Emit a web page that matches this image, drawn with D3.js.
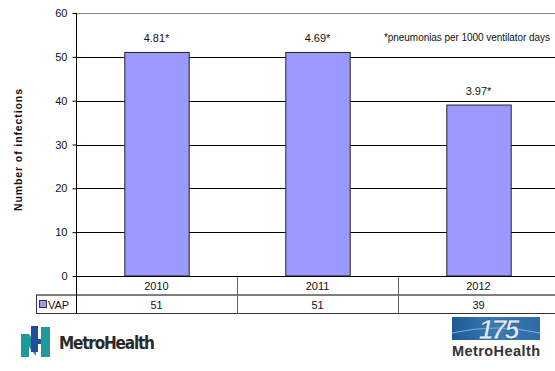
<!DOCTYPE html>
<html>
<head>
<meta charset="utf-8">
<script src="https://cdn.jsdelivr.net/npm/d3@7/dist/d3.min.js"></script>
<style>
  html, body { margin: 0; padding: 0; background: #fff; }
  svg { display: block; font-family: "Liberation Sans", Arial, sans-serif; }
</style>
</head>
<body>
<svg id="chart" width="555" height="371"></svg>
<script>
// VAP infections by year
const years = ["2010", "2011", "2012"];
const vapCounts = [51, 51, 39];
const rateLabels = ["4.81*", "4.69*", "3.97*"];
const yTicks = [0, 10, 20, 30, 40, 50, 60];
const seriesName = "VAP";
const footnote = "*pneumonias per 1000 ventilator days";

const svg = d3.select("#chart");
const plot = { left: 76, right: 559, top: 13, bottom: 276 };
const rowH = 18.5;

const y = d3.scaleLinear().domain([0, 60]).range([plot.bottom, plot.top]);
const col = d3.scaleBand().domain(years).range([plot.left, plot.right]).padding(0);
const barW = col.bandwidth() * 0.4;

// gridlines
svg.append("g").selectAll("line")
  .data(yTicks.filter(t => t > 0))
  .join("line")
  .attr("x1", plot.left).attr("x2", plot.right)
  .attr("y1", d => Math.round(y(d)) + 0.5).attr("y2", d => Math.round(y(d)) + 0.5)
  .attr("stroke", d => d === 60 ? "#888" : "#000")
  .attr("stroke-width", 1);

// bars
svg.append("g").selectAll("rect")
  .data(years)
  .join("rect")
  .attr("x", d => col(d) + col.bandwidth() * 0.3 + 0.5)
  .attr("width", barW)
  .attr("y", (d, i) => y(vapCounts[i]))
  .attr("height", (d, i) => y(0) - y(vapCounts[i]))
  .attr("fill", "#9999ff")
  .attr("stroke", "#222")
  .attr("stroke-width", 1);

// rate labels above bars
svg.append("g").selectAll("text")
  .data(years)
  .join("text")
  .attr("x", d => col(d) + col.bandwidth() / 2)
  .attr("y", (d, i) => y(vapCounts[i]) - 10)
  .attr("text-anchor", "middle")
  .attr("font-size", 11)
  .attr("fill", "#111")
  .text((d, i) => rateLabels[i]);

// footnote
svg.append("text")
  .attr("x", 550).attr("y", 41)
  .attr("text-anchor", "end")
  .attr("font-size", 10)
  .attr("fill", "#111")
  .attr("textLength", 166)
  .text(footnote);

// y axis
const yAxis = d3.axisLeft(y).tickValues(yTicks).tickSize(4).tickSizeOuter(0).tickPadding(5);
const gy = svg.append("g").attr("transform", `translate(${plot.left + 0.5},0)`).call(yAxis);
gy.select(".domain").remove();
gy.selectAll(".tick line").attr("stroke", "#000");
gy.selectAll(".tick text").attr("font-size", 11).attr("fill", "#111")
  .attr("font-family", "Liberation Sans, Arial, sans-serif");
svg.append("line")
  .attr("x1", plot.left + 0.5).attr("x2", plot.left + 0.5)
  .attr("y1", plot.top).attr("y2", plot.bottom + 2 * rowH)
  .attr("stroke", "#000");

// y axis title
svg.append("text")
  .attr("transform", `translate(22,150) rotate(-90)`)
  .attr("text-anchor", "middle")
  .attr("font-size", 10.5)
  .attr("font-weight", "bold")
  .attr("fill", "#111")
  .attr("textLength", 122)
  .text("Number of infections");

// data table under the axis
const tbl = svg.append("g");
const r0 = plot.bottom + 0.5, r1 = r0 + rowH, r2 = r1 + rowH;
// horizontal rules
tbl.append("line").attr("x1", plot.left).attr("x2", plot.right).attr("y1", r0).attr("y2", r0).attr("stroke", "#000");
tbl.append("line").attr("x1", 36).attr("x2", plot.right).attr("y1", r1).attr("y2", r1).attr("stroke", "#000");
tbl.append("line").attr("x1", 36).attr("x2", plot.right).attr("y1", r2).attr("y2", r2).attr("stroke", "#333");
tbl.append("line").attr("x1", 36.5).attr("x2", 36.5).attr("y1", r1).attr("y2", r2).attr("stroke", "#333");
// column dividers
tbl.selectAll("line.div")
  .data(years.slice(1))
  .join("line")
  .attr("class", "div")
  .attr("x1", d => Math.round(col(d)) + 0.5).attr("x2", d => Math.round(col(d)) + 0.5)
  .attr("y1", r0).attr("y2", r2)
  .attr("stroke", "#666");
// year headers
tbl.selectAll("text.yr")
  .data(years)
  .join("text")
  .attr("class", "yr")
  .attr("x", d => col(d) + col.bandwidth() / 2)
  .attr("y", r0 + 13.5)
  .attr("text-anchor", "middle")
  .attr("font-size", 11)
  .attr("fill", "#111")
  .text(d => d);
// values
tbl.selectAll("text.val")
  .data(years)
  .join("text")
  .attr("class", "val")
  .attr("x", d => col(d) + col.bandwidth() / 2)
  .attr("y", r1 + 13.5)
  .attr("text-anchor", "middle")
  .attr("font-size", 11)
  .attr("fill", "#111")
  .text((d, i) => vapCounts[i]);
// legend key in the row header
tbl.append("rect")
  .attr("x", 39.5).attr("y", r1 + 5.5).attr("width", 7).attr("height", 7)
  .attr("fill", "#9999ff").attr("stroke", "#333");
tbl.append("text")
  .attr("x", 48).attr("y", r1 + 13.5)
  .attr("font-size", 11).attr("fill", "#111")
  .text(seriesName);

// MetroHealth logo (left)
const logo = svg.append("g");
logo.append("path").attr("fill", "#1f9a9a")
  .attr("d", "M21,334 L29,334 L36,344 L36,356 L29,347 L29,357 L21,357 Z");
logo.append("path").attr("fill", "#1f9a9a")
  .attr("d", "M41,327 L50,327 L50,357 L41,357 Z");
logo.append("path").attr("fill", "#1d4f9c")
  .attr("d", "M31,326 L38,326 L38,339 L41,339 L41,344 L38,344 L38,352 L31,352 Z");
logo.append("text")
  .attr("x", 59).attr("y", 349)
  .attr("font-family", "'DejaVu Sans Condensed', 'Liberation Sans Narrow', sans-serif")
  .attr("font-weight", "bold")
  .attr("font-size", 17)
  .attr("fill", "#2a2a2a")
  .attr("textLength", 96)
  .text("MetroHealth");

// MetroHealth 175 logo (right)
const defs = svg.append("defs");
const grad = defs.append("linearGradient").attr("id", "badge").attr("x1", 0).attr("x2", 1).attr("y1", 0).attr("y2", 0);
grad.append("stop").attr("offset", 0).attr("stop-color", "#1c5a96");
grad.append("stop").attr("offset", 0.5).attr("stop-color", "#3a7cb8");
grad.append("stop").attr("offset", 1).attr("stop-color", "#2d6aa8");
const badge = svg.append("g");
badge.append("rect").attr("x", 452).attr("y", 317).attr("width", 88).attr("height", 23).attr("fill", "url(#badge)");
badge.append("path").attr("fill", "none").attr("stroke", "#9cc4e6").attr("stroke-width", 0.8)
  .attr("d", "M452,333 Q496,323 540,333");
badge.append("text")
  .attr("x", 498).attr("y", 339)
  .attr("text-anchor", "middle")
  .attr("font-size", 27)
  .attr("font-weight", "bold")
  .attr("font-style", "italic")
  .attr("letter-spacing", -2)
  .attr("fill", "#dde8f5")
  .attr("stroke", "#1c4d80").attr("stroke-width", 0.6)
  .text("175");
badge.append("text")
  .attr("x", 496).attr("y", 356)
  .attr("text-anchor", "middle")
  .attr("font-size", 14.5)
  .attr("font-weight", "bold")
  .attr("fill", "#333")
  .attr("textLength", 88)
  .text("MetroHealth");
</script>
</body>
</html>
